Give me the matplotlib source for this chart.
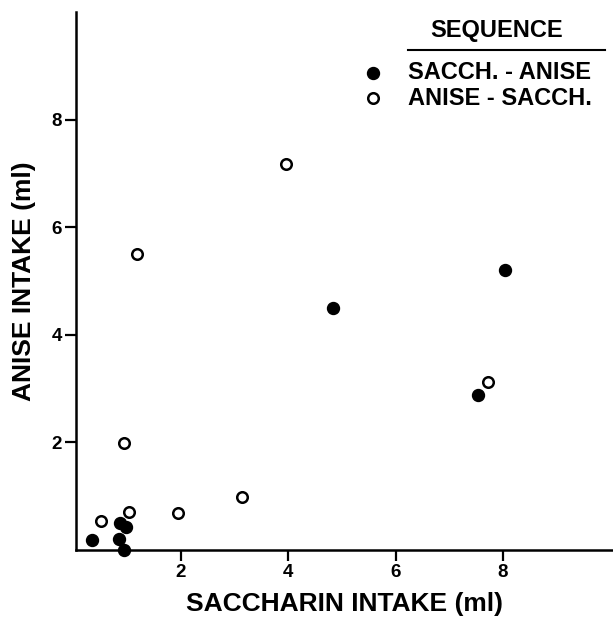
import matplotlib
matplotlib.use('Agg')
import matplotlib.pyplot as plt

plt.rcParams['font.family'] = ['Liberation Sans', 'DejaVu Sans']
plt.rcParams['font.weight'] = 'bold'

# Saccharin -> Anise sequence (filled)
sa_x = [0.35, 0.85, 0.87, 0.99, 0.95, 4.84, 8.04, 7.54]
sa_y = [0.19, 0.20, 0.51, 0.42, 0.00, 4.50, 5.20, 2.89]

# Anise -> Saccharin sequence (open)
as_x = [0.51, 1.04, 1.95, 0.94, 1.18, 3.14, 3.96, 7.72]
as_y = [0.54, 0.70, 0.69, 1.98, 5.51, 0.99, 7.17, 3.12]

ticks = [2, 4, 6, 8]
legend_labels = ['SACCH. - ANISE', 'ANISE - SACCH.']

fig = plt.figure(figsize=(6.13, 6.22), dpi=100)
ax = fig.add_axes([76 / 613, 72 / 622, 537 / 613, 538 / 622])

ax.plot(sa_x, sa_y, 'o', color='black', markersize=8.6, clip_on=False, zorder=3)
ax.plot(as_x, as_y, 'o', markerfacecolor='white', markeredgecolor='black',
        markersize=7.6, markeredgewidth=1.8, clip_on=False, zorder=3)

ax.set_xlim(0.05, 10.05)
ax.set_ylim(0, 10)
ax.set_xticks(ticks)
ax.set_yticks(ticks)
ax.tick_params(direction='out', length=8, width=1.6, labelsize=13.5, pad=2)

ax.spines['top'].set_visible(False)
ax.spines['right'].set_visible(False)
ax.spines['left'].set_linewidth(1.8)
ax.spines['bottom'].set_linewidth(1.8)

ax.set_xlabel('SACCHARIN INTAKE (ml)', fontsize=19, fontweight='bold', labelpad=8)
ax.set_ylabel('ANISE INTAKE (ml)', fontsize=19, fontweight='bold', labelpad=11)

# custom legend
ax.text(0.784, 0.965, 'SEQUENCE', transform=ax.transAxes, fontsize=17,
        fontweight='bold', ha='center', va='center')
ax.plot([0.618, 0.985], [0.929, 0.929], transform=ax.transAxes, color='black',
        linewidth=1.5, clip_on=False)
ax.plot([0.553], [0.887], 'o', transform=ax.transAxes, color='black',
        markersize=8.6, clip_on=False)
ax.plot([0.553], [0.840], 'o', transform=ax.transAxes, markerfacecolor='white',
        markeredgecolor='black', markersize=7.6, markeredgewidth=1.8, clip_on=False)
for yy, lab in zip([0.887, 0.840], legend_labels):
    ax.text(0.618, yy, lab, transform=ax.transAxes, fontsize=17,
            fontweight='bold', ha='left', va='center')

fig.savefig('out.png', dpi=100, facecolor='white')
